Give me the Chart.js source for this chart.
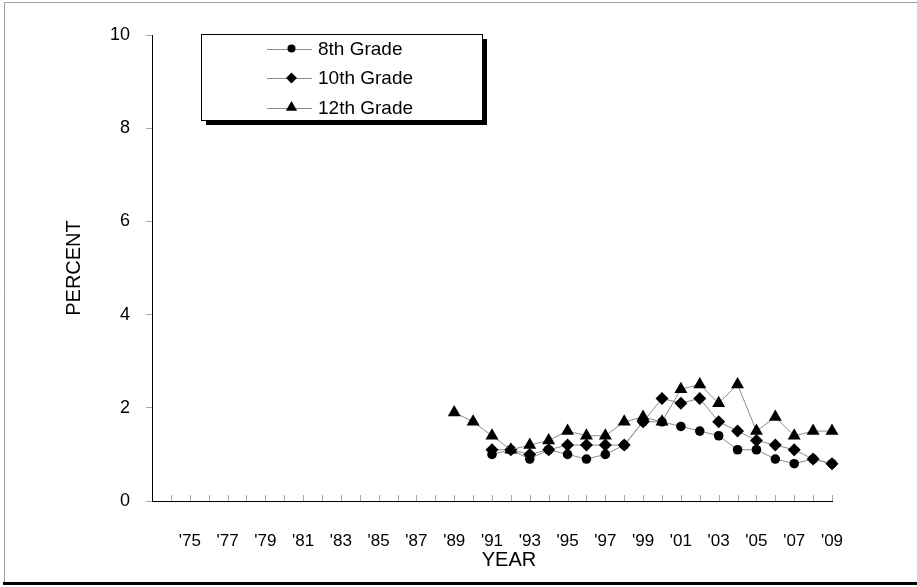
<!DOCTYPE html>
<html>
<head>
<meta charset="utf-8">
<script src="https://cdn.jsdelivr.net/npm/chart.js@4/dist/chart.umd.min.js"></script>
<style>
  html, body { margin: 0; padding: 0; background: #fff; }
  canvas { display: block; }
</style>
</head>
<body>
<canvas id="chart" width="917" height="587"></canvas>
<script>
// years on the axis and the labels shown under them (only odd years from '75)
const years = [
  '1973', '1974', '1975', '1976', '1977', '1978', '1979', '1980', '1981', '1982',
  '1983', '1984', '1985', '1986', '1987', '1988', '1989', '1990', '1991', '1992',
  '1993', '1994', '1995', '1996', '1997', '1998', '1999', '2000', '2001', '2002',
  '2003', '2004', '2005', '2006', '2007', '2008', '2009'
];
const yearLabels = [
  '', '', "'75", '', "'77", '', "'79", '', "'81", '',
  "'83", '', "'85", '', "'87", '', "'89", '', "'91", '',
  "'93", '', "'95", '', "'97", '', "'99", '', "'01", '',
  "'03", '', "'05", '', "'07", '', "'09"
];
const yTicks = [0, 2, 4, 6, 8, 10];

// percent values, from the first surveyed year of each grade
const grade8Years = ['1991', '1992', '1993', '1994', '1995', '1996', '1997', '1998', '1999', '2000',
  '2001', '2002', '2003', '2004', '2005', '2006', '2007', '2008', '2009'];
const grade8 = [1.0, 1.1, 0.9, 1.1, 1.0, 0.9, 1.0, 1.2, 1.7, 1.7,
  1.6, 1.5, 1.4, 1.1, 1.1, 0.9, 0.8, 0.9, 0.8];

const grade10Years = grade8Years;
const grade10 = [1.1, 1.1, 1.0, 1.1, 1.2, 1.2, 1.2, 1.2, 1.7, 2.2,
  2.1, 2.2, 1.7, 1.5, 1.3, 1.2, 1.1, 0.9, 0.8];

const grade12Years = ['1989', '1990', '1991', '1992', '1993', '1994', '1995', '1996', '1997', '1998',
  '1999', '2000', '2001', '2002', '2003', '2004', '2005', '2006', '2007', '2008', '2009'];
const grade12 = [1.9, 1.7, 1.4, 1.1, 1.2, 1.3, 1.5, 1.4, 1.4, 1.7,
  1.8, 1.7, 2.4, 2.5, 2.1, 2.5, 1.5, 1.8, 1.4, 1.5, 1.5];

const FONT = "'Liberation Sans', Arial, sans-serif";

function series(label, xs, ys, style, radius, order) {
  return {
    label: label,
    data: xs.map((x, i) => ({ x: x, y: ys[i] })),
    borderColor: '#8c8c8c',
    borderWidth: 1,
    backgroundColor: '#000',
    pointBackgroundColor: '#000',
    pointBorderWidth: 0,
    pointStyle: style,
    pointRadius: radius,
    pointHoverRadius: radius,
    tension: 0,
    order: order
  };
}

const datasets = [
  series('8th Grade', grade8Years, grade8, 'circle', 4.8, 2),
  series('10th Grade', grade10Years, grade10, 'rectRot', 6.5, 1),
  series('12th Grade', grade12Years, grade12, 'triangle', 7.5, 0)
];

// page frame: thin grey top/left edge and heavy black bottom line
const framePlugin = {
  id: 'frame',
  beforeDraw(chart) {
    const ctx = chart.ctx;
    ctx.save();
    ctx.strokeStyle = '#a0a0a0';
    ctx.lineWidth = 1;
    ctx.beginPath();
    ctx.moveTo(4.5, 584);
    ctx.lineTo(4.5, 2.5);
    ctx.lineTo(917, 2.5);
    ctx.stroke();
    ctx.fillStyle = '#000';
    ctx.fillRect(3, 582, 914, 3);
    ctx.restore();
  }
};

// small tick marks pointing up into the plot, one per year, and the YEAR title
const xAxisPlugin = {
  id: 'xaxisExtras',
  afterDatasetsDraw(chart) {
    const ctx = chart.ctx;
    const xs = chart.scales.x;
    const bottom = chart.chartArea.bottom;
    ctx.save();
    ctx.strokeStyle = '#a8a8a8';
    ctx.lineWidth = 1;
    ctx.beginPath();
    for (let i = 1; i < years.length; i++) {
      const px = Math.round(xs.getPixelForValue(i)) + 0.5;
      ctx.moveTo(px, bottom);
      ctx.lineTo(px, bottom - 6);
    }
    ctx.stroke();
    ctx.fillStyle = '#000';
    ctx.font = '20px ' + FONT;
    ctx.textAlign = 'center';
    ctx.textBaseline = 'middle';
    ctx.fillText('YEAR', 509, 560);
    ctx.restore();
  }
};

// boxed legend with a drop shadow, top left of the plot
const legendPlugin = {
  id: 'boxLegend',
  afterDraw(chart) {
    const ctx = chart.ctx;
    const bx = 201, by = 34, bw = 281, bh = 86;
    ctx.save();
    ctx.fillStyle = '#000';
    ctx.fillRect(bx + 5, by + 5, bw, bh);
    ctx.fillStyle = '#fff';
    ctx.fillRect(bx, by, bw, bh);
    ctx.strokeStyle = '#000';
    ctx.lineWidth = 1;
    ctx.strokeRect(bx + 0.5, by + 0.5, bw, bh);

    const legendRadius = [4, 5.5, 6.5];
    chart.data.datasets.forEach((ds, i) => {
      const y = by + 14.5 + i * 29.5;
      ctx.strokeStyle = '#8c8c8c';
      ctx.beginPath();
      ctx.moveTo(267, Math.round(y) + 0.5);
      ctx.lineTo(312, Math.round(y) + 0.5);
      ctx.stroke();
      ctx.fillStyle = '#000';
      Chart.helpers.drawPoint(ctx, {
        pointStyle: ds.pointStyle, radius: legendRadius[i], rotation: 0, borderWidth: 0
      }, 291.5, y);
      ctx.fillStyle = '#000';
      ctx.font = '19px ' + FONT;
      ctx.textBaseline = 'middle';
      ctx.textAlign = 'left';
      ctx.fillText(ds.label, 318, y + 1);
    });
    ctx.restore();
  }
};

new Chart(document.getElementById('chart'), {
  type: 'line',
  data: { labels: years, datasets: datasets },
  plugins: [framePlugin, xAxisPlugin, legendPlugin],
  options: {
    responsive: false,
    animation: false,
    devicePixelRatio: 1,
    layout: { padding: { left: 0, top: 35, right: 85, bottom: 0 } },
    plugins: {
      legend: { display: false },
      tooltip: { enabled: false }
    },
    scales: {
      x: {
        type: 'category',
        offset: false,
        grid: { display: false },
        border: { display: true, color: '#000', width: 1 },
        ticks: {
          autoSkip: false,
          maxRotation: 0,
          minRotation: 0,
          padding: 22,
          color: '#000',
          font: { family: FONT, size: 17 },
          callback: (v, i) => yearLabels[i]
        },
        afterFit: (s) => { s.height = 86; }
      },
      y: {
        min: 0,
        max: 10,
        afterBuildTicks: (s) => { s.ticks = yTicks.map(v => ({ value: v })); },
        grid: {
          drawOnChartArea: false,
          drawTicks: true,
          tickLength: 6,
          color: '#a8a8a8'
        },
        border: { display: true, color: '#000', width: 1 },
        ticks: {
          padding: 16,
          color: '#000',
          font: { family: FONT, size: 18 }
        },
        title: {
          display: true,
          text: 'PERCENT',
          color: '#000',
          font: { family: FONT, size: 20 },
          padding: { top: 62, bottom: 0 }
        },
        afterFit: (s) => { s.width = 152; }
      }
    }
  }
});
</script>
</body>
</html>
